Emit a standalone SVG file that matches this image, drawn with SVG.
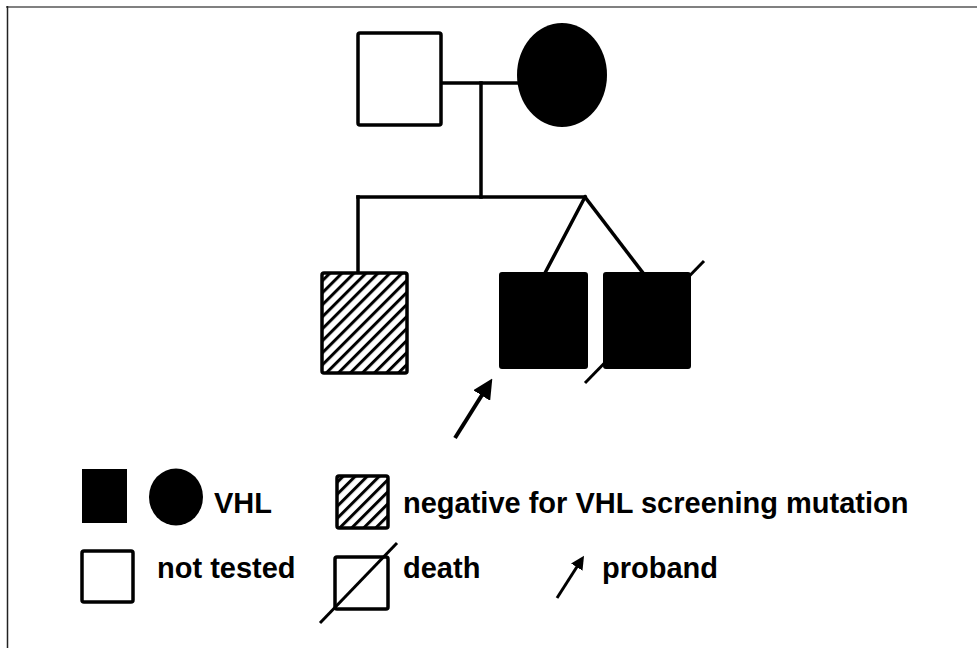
<svg xmlns="http://www.w3.org/2000/svg" width="977" height="648" viewBox="0 0 977 648">
  <style>
    .box { fill: #fff; stroke: #000; stroke-width: 3.5; }
    .aff { fill: #000; stroke: #000; stroke-width: 2; }
    .hat { fill: url(#hatch); stroke: #000; stroke-width: 3.5; }
    .ln { stroke: #000; stroke-width: 3.5; fill: none; stroke-linecap: square; }
    .dl { stroke: #000; stroke-width: 3; fill: none; }
    .lbl { font-family: "Liberation Sans", Arial, sans-serif; font-weight: bold; font-size: 29px; fill: #000; }
  </style>
  <defs>
    <pattern id="hatch" patternUnits="userSpaceOnUse" width="8.5" height="8.5" patternTransform="rotate(45)">
      <rect width="8.5" height="8.5" fill="#fff"/>
      <line x1="0" y1="0" x2="0" y2="8.5" stroke="#000" stroke-width="6"/>
    </pattern>
    <marker id="ah" markerWidth="5" markerHeight="5" refX="2.5" refY="2.5" orient="auto" markerUnits="strokeWidth">
      <path d="M0,0 L5,2.5 L0,5 Z" fill="#000"/>
    </marker>
    <marker id="ah2" markerWidth="4.5" markerHeight="4.5" refX="2" refY="2.25" orient="auto" markerUnits="strokeWidth">
      <path d="M0,0 L4.5,2.25 L0,4.5 Z" fill="#000"/>
    </marker>
  </defs>
  <rect width="977" height="648" fill="#fff"/>
  <line x1="6" y1="7" x2="977" y2="7" stroke="#808080" stroke-width="2"/>
  <line x1="7.5" y1="6" x2="7.5" y2="648" stroke="#222" stroke-width="1.5"/>

  <g id="connectors">
    <line class="ln" x1="441" y1="83" x2="517" y2="83"/>
    <line class="ln" x1="481" y1="83" x2="481" y2="197"/>
    <line class="ln" x1="358" y1="197" x2="585" y2="197"/>
    <line class="ln" x1="358" y1="197" x2="358" y2="273"/>
    <line class="ln" x1="585" y1="197" x2="545" y2="273"/>
    <line class="ln" x1="585" y1="197" x2="643" y2="273"/>
    <line x1="455" y1="438" x2="487" y2="387" stroke="#000" stroke-width="4" marker-end="url(#ah)"/>
  </g>

  <g id="father"><rect class="box" x="358" y="33" width="83" height="92" rx="2"/></g>
  <g id="mother"><ellipse cx="562" cy="75" rx="45" ry="52" fill="#000"/></g>
  <g id="sib-negative"><rect class="hat" x="322" y="273" width="85" height="100" rx="2"/></g>
  <g id="proband"><rect class="aff" x="500" y="273" width="87" height="95" rx="2"/></g>
  <g id="sib-deceased">
    <line class="dl" x1="585" y1="383" x2="704" y2="261"/>
    <rect class="aff" x="604" y="273" width="86" height="95" rx="2"/>
  </g>

  <g id="legend">
    <rect x="82" y="469" width="45" height="54" fill="#000"/>
    <ellipse cx="176" cy="497" rx="27" ry="28.5" fill="#000"/>
    <text class="lbl" x="214" y="513">VHL</text>
    <rect class="hat" x="337" y="476" width="51" height="52" rx="2"/>
    <text class="lbl" x="403" y="513">negative for VHL screening mutation</text>
    <rect class="box" x="82" y="551" width="51" height="51" rx="2"/>
    <text class="lbl" x="157" y="578">not tested</text>
    <rect class="box" x="335" y="557" width="53" height="52" rx="2"/>
    <line class="dl" x1="320" y1="623" x2="397" y2="543"/>
    <text class="lbl" x="403" y="578">death</text>
    <line x1="557" y1="598" x2="580" y2="562" stroke="#000" stroke-width="3" marker-end="url(#ah2)"/>
    <text class="lbl" x="602" y="578">proband</text>
  </g>
</svg>
